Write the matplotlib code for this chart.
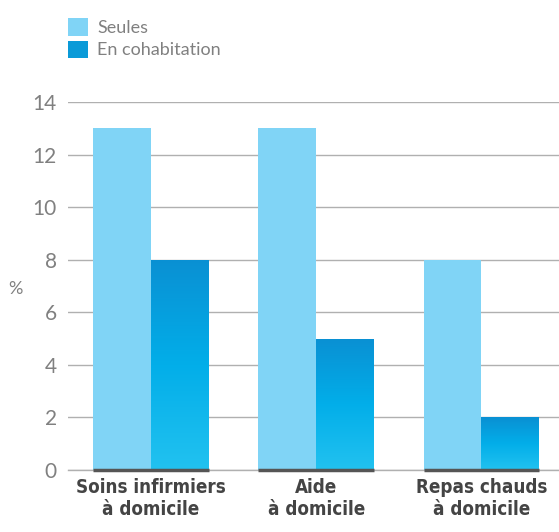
import numpy as np
import matplotlib.pyplot as plt
from matplotlib.colors import LinearSegmentedColormap
from matplotlib.patches import Patch

categories = ['Soins infirmiers\nà domicile', 'Aide\nà domicile', 'Repas chauds\nà domicile']
seules = [13, 13, 8]
cohabitation = [8, 5, 2]
series_names = ['Seules', 'En cohabitation']
yticks = [0, 2, 4, 6, 8, 10, 12, 14]

light_blue = '#80D4F6'
grad = LinearSegmentedColormap.from_list('grad', ['#0A90D3', '#02AEE9', '#22C2F0'])
thin = ['Lato', 'DejaVu Sans']

fig = plt.figure(figsize=(5.59, 5.32), dpi=100)
ax = fig.add_axes([68 / 559, 1 - 470 / 532, 491 / 559, 368 / 532])

x = np.arange(len(categories))
w = 0.35
ax.bar(x - w / 2, seules, w, color=light_blue, zorder=2)
bars2 = ax.bar(x + w / 2, cohabitation, w, color='none', zorder=2)

img = np.linspace(0, 1, 256).reshape(-1, 1)
for b in bars2:
    x0, y0 = b.get_x(), b.get_y()
    im = ax.imshow(img, cmap=grad, aspect='auto', zorder=2,
                   extent=[x0, x0 + b.get_width(), y0, y0 + b.get_height()],
                   origin='upper')
    im.set_clip_path(b)

ax.axhline(0, color='#B0B0B0', lw=1, zorder=1, clip_on=False)
# dark baseline under each group
for xi in x:
    ax.plot([xi - w, xi + w], [0, 0], color='#555555', lw=2.5,
            solid_capstyle='butt', zorder=3, clip_on=False)

ax.set_xlim(-0.503, 2.47)
ax.set_ylim(0, 14)
ax.set_yticks(yticks)
ax.grid(axis='y', color='#B0B0B0', lw=1, zorder=0)
ax.set_axisbelow(True)
for s in ax.spines.values():
    s.set_visible(False)
ax.tick_params(axis='y', length=0, pad=8, labelsize=15, labelcolor='#808080')
ax.set_yticklabels([str(t) for t in yticks], fontweight='normal', family=thin)
ax.set_xticks(x)
ax.set_xticklabels(categories, fontsize=13.5, fontweight='bold', color='#444444',
                   family='DejaVu Sans', fontstretch='condensed', linespacing=1.2)
ax.tick_params(axis='x', length=0, pad=6)
ax.set_ylabel('%', rotation=0, fontsize=13, color='#808080',
              fontweight='normal', family=thin)
ax.yaxis.set_label_coords(-0.108, 0.47)

handles = [Patch(facecolor=light_blue), Patch(facecolor='#0A9AD8')]
fig.legend(handles, series_names, loc='upper left', bbox_to_anchor=(52 / 559, 1 - 2 / 532),
           frameon=False, handlelength=1.1, handleheight=1.1,
           handletextpad=0.5, labelspacing=0.25, labelcolor='#808080',
           prop={'family': thin, 'weight': 'normal', 'size': 13})

fig.savefig('out.png', dpi=100)
